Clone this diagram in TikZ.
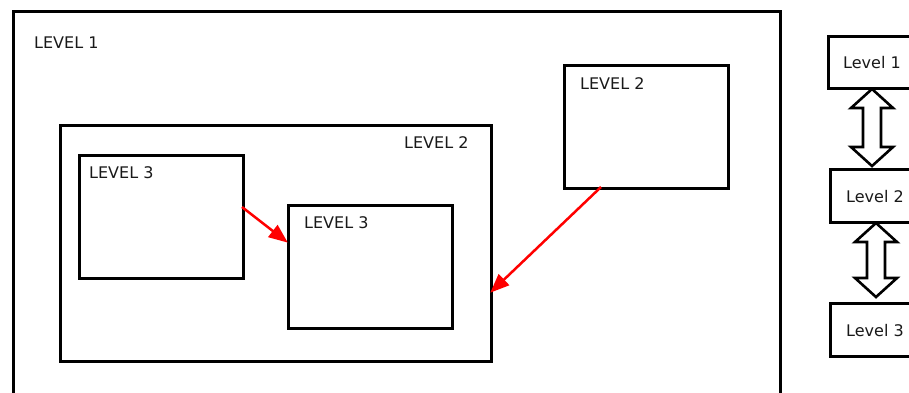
\documentclass[tikz,border=0pt]{standalone}
\usepackage{fontspec}
\setmainfont{DejaVu Sans}
\usetikzlibrary{arrows.meta}
\begin{document}
\begin{tikzpicture}[x=1pt,y=-1pt,
  box/.style={draw=black,line width=2.6pt,fill=white,anchor=north west,inner sep=0pt},
  lbl/.style={anchor=base west,inner sep=0pt,font=\fontsize{16}{19}\selectfont,text=black!90},
  redarrow/.style={draw=red,line width=2.5pt,-{Triangle[length=19pt,width=15pt]},shorten >=-1pt},
  dblarrow/.style={draw=black,line width=2.6pt,fill=white,line join=miter}]
\useasboundingbox (0,0) rectangle (909,392);
\clip (0,0) rectangle (909,392);
\fill[white] (0,0) rectangle (909,392);

% outer level
\node[box,minimum width=767pt,minimum height=400pt] (outer) at (12,10) {};
\node[lbl] (outerlbl) at (34,48) {LEVEL 1};

% level 2 container with two level 3 boxes
\node[box,minimum width=431pt,minimum height=236pt] (mid) at (59,124) {};
\node[lbl] (midlbl) at (404,148) {LEVEL 2};
\node[box,minimum width=164pt,minimum height=123pt] (la) at (78,154) {};
\node[lbl] (lalbl) at (89,178) {LEVEL 3};
\node[box,minimum width=164pt,minimum height=123pt] (lb) at (287,204) {};
\node[lbl] (lblbl) at (304,228) {LEVEL 3};

% separate level 2 box
\node[box,minimum width=164pt,minimum height=123pt] (lc) at (563,64) {};
\node[lbl] (lclbl) at (580,89) {LEVEL 2};

% red arrows
\coordinate (a1) at (242,207);
\coordinate (a2) at (287,242);
\draw[redarrow] (a1) -- (a2);
\coordinate (b1) at (601,187);
\coordinate (b2) at (491,292);
\draw[redarrow] (b1) -- (b2);

% hierarchy legend
\node[box,minimum width=110pt,minimum height=52pt] (h1) at (827,35) {};
\node[lbl] (h1lbl) at (843,68) {Level 1};
\node[box,minimum width=110pt,minimum height=53pt] (h2) at (829,168) {};
\node[lbl] (h2lbl) at (846,202) {Level 2};
\node[box,minimum width=110pt,minimum height=53pt] (h3) at (829,302) {};
\node[lbl] (h3lbl) at (846,336) {Level 3};

% double arrows between legend boxes
\draw[dblarrow] (872,89) -- (893,108) -- (881,108) -- (881,147) -- (893,147)
  -- (872,166) -- (851,147) -- (863,147) -- (863,108) -- (851,108) -- cycle;
\draw[dblarrow] (876,223) -- (897,242) -- (885,242) -- (885,278) -- (897,278)
  -- (876,297) -- (855,278) -- (867,278) -- (867,242) -- (855,242) -- cycle;
\end{tikzpicture}
\end{document}
